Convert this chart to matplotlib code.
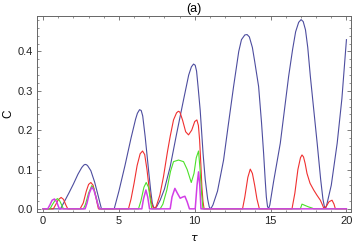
import matplotlib
matplotlib.use("Agg")
import matplotlib.pyplot as plt
from matplotlib.ticker import MultipleLocator

plt.rcParams['font.family'] = ['Liberation Sans', 'DejaVu Sans']

# curve values (tau, C)
blue_t = [0, 1.15, 1.4, 1.7, 2.0, 2.3, 2.55, 2.68, 2.77, 2.87, 2.95, 3.15, 3.4, 3.6, 3.75, 3.85,
          4.69, 5.0, 5.4, 5.8, 6.1, 6.22, 6.36, 6.47, 6.57, 6.73, 6.95, 7.1, 7.2, 7.3, 7.38,
          7.5, 7.72, 8.0, 8.38, 8.8, 9.26, 9.6, 9.78, 9.92, 10.03, 10.12, 10.22, 10.36, 10.55,
          10.69, 10.85, 10.95, 11.02, 11.1,
          11.2, 11.5, 11.9, 12.2, 12.56, 12.9, 13.08, 13.3, 13.45, 13.6, 13.8, 13.95, 14.21,
          14.4, 14.54, 14.65, 14.72, 14.8, 14.88, 14.95, 15.2, 15.64, 16.19, 16.45, 16.65,
          16.85, 17.01, 17.15, 17.3, 17.45, 17.62, 17.85, 18.07, 18.3, 18.45, 18.55, 18.63,
          18.7, 19.0, 19.39, 19.7, 20.0]
blue_c = [0, 0, 0.018, 0.04, 0.063, 0.088, 0.105, 0.111, 0.113, 0.112, 0.109, 0.097, 0.068,
          0.038, 0.015, 0,
          0, 0.045, 0.11, 0.18, 0.228, 0.243, 0.252, 0.25, 0.236, 0.184, 0.1, 0.045, 0.015,
          0.003, 0.001,
          0.006, 0.022, 0.05, 0.107, 0.19, 0.277, 0.34, 0.361, 0.368, 0.365, 0.35, 0.31, 0.25,
          0.14, 0.075, 0.025, 0.006, 0.0, 0.003,
          0.01, 0.045, 0.124, 0.21, 0.311, 0.4, 0.43, 0.442, 0.443, 0.437, 0.41, 0.375, 0.311,
          0.22, 0.141, 0.07, 0.03, 0.005, 0.002, 0.01, 0.07, 0.167, 0.337, 0.405, 0.45,
          0.474, 0.481, 0.476, 0.455, 0.41, 0.337, 0.25, 0.167, 0.075, 0.025, 0.005, 0.002,
          0.01, 0.06, 0.167, 0.28, 0.43]

red_t = [0, 0.68, 0.85, 1.0, 1.19, 1.35, 1.5, 1.63, 2.44, 2.65, 2.85, 3.0, 3.15, 3.3, 3.45, 3.58, 3.65,
         5.63, 5.8, 6.0, 6.2, 6.4, 6.56, 6.7, 6.85, 7.0, 7.15, 7.28, 7.45, 7.7, 7.94, 8.2, 8.38,
         8.6, 8.8, 8.92, 9.02, 9.2, 9.4, 9.59, 9.8, 10.0, 10.14, 10.24, 10.32, 10.4, 10.47,
         10.54, 10.6, 10.63,
         13.15, 13.3, 13.5, 13.66, 13.8, 13.95, 14.1, 14.26,
         16.41, 16.6, 16.8, 16.97, 17.07, 17.17, 17.28, 17.4, 17.6, 17.84, 18.05, 18.28, 18.42,
         18.5, 18.65, 18.85, 19.05, 19.18, 19.27, 20.0]
red_c = [0, 0, 0.012, 0.023, 0.029, 0.024, 0.01, 0, 0, 0.015, 0.045, 0.062, 0.067, 0.06, 0.035,
         0.012, 0,
         0, 0.025, 0.065, 0.11, 0.14, 0.147, 0.138, 0.1, 0.05, 0.015, 0.001, 0.005, 0.035,
         0.082, 0.145, 0.184,
         0.226, 0.244, 0.248, 0.246, 0.225, 0.196, 0.188, 0.2, 0.222, 0.226, 0.212, 0.175,
         0.115, 0.056, 0.02, 0.004, 0,
         0, 0.03, 0.08, 0.101, 0.09, 0.06, 0.025, 0,
         0, 0.04, 0.1, 0.13, 0.137, 0.132, 0.115, 0.09, 0.065, 0.048, 0.035, 0.022, 0.01,
         0.002, 0.005, 0.018, 0.022, 0.012, 0, 0]

green_t = [0, 0.46, 0.6, 0.8, 0.95, 1.1, 1.25, 1.34, 2.66, 2.8, 3.0, 3.21, 3.35, 3.5, 3.62, 3.72,
           6.29, 6.45, 6.65, 6.8, 6.95, 7.08, 7.17, 7.72, 7.9, 8.16, 8.4, 8.6, 8.93, 9.26, 9.5,
           9.77, 9.95, 10.1, 10.25, 10.35, 10.45, 10.54, 16.96, 17.07, 17.25, 17.5, 17.74, 17.85, 20.0]
green_c = [0, 0, 0.01, 0.022, 0.026, 0.02, 0.008, 0, 0, 0.012, 0.04, 0.059, 0.052, 0.03, 0.01, 0,
           0, 0.02, 0.055, 0.067, 0.055, 0.02, 0, 0, 0.012, 0.048, 0.095, 0.12, 0.124, 0.12, 0.1,
           0.067, 0.09, 0.13, 0.147, 0.1, 0.04, 0, 0, 0.012, 0.009, 0.005, 0.002, 0, 0]

magenta_t = [0, 0.31, 0.45, 0.6, 0.75, 0.9, 1.0, 1.08, 2.77, 2.9, 3.05, 3.21, 3.35, 3.5, 3.62, 3.72,
             6.51, 6.62, 6.78, 6.9, 7.02, 8.38, 8.5, 8.69, 8.85, 9.04, 9.2, 9.35, 9.5, 9.65,
             10.03, 10.15, 10.25, 10.33, 10.41, 20.0]
magenta_c = [0, 0, 0.01, 0.022, 0.025, 0.018, 0.007, 0, 0, 0.015, 0.04, 0.055, 0.048, 0.028, 0.01, 0,
             0, 0.025, 0.048, 0.03, 0, 0, 0.03, 0.052, 0.04, 0.027, 0.03, 0.032, 0.018, 0,
             0, 0.06, 0.094, 0.06, 0, 0]

fig = plt.figure(figsize=(3.54, 2.47), dpi=100)
ax = fig.add_axes([0.1045, 0.1417, 0.887, 0.7933])

lw = 0.8
ax.plot(blue_t, blue_c, color='#4d4d9f', lw=lw)
ax.plot(red_t, red_c, color='#f03030', lw=lw)
ax.plot(green_t, green_c, color='#4ce02a', lw=lw)
ax.plot(magenta_t, magenta_c, color='#d23ee6', lw=1.1)

ax.set_xlim(-0.4, 20.3)
ax.set_ylim(-0.008, 0.49)
ax.xaxis.set_major_locator(MultipleLocator(5))
ax.xaxis.set_minor_locator(MultipleLocator(1))
ax.yaxis.set_major_locator(MultipleLocator(0.1))
ax.yaxis.set_minor_locator(MultipleLocator(0.02))
ax.tick_params(which='both', direction='in', top=True, right=True,
               color='#666666', labelsize=8, labelcolor='#222222', pad=3)
ax.tick_params(which='major', length=3, width=0.6)
ax.tick_params(which='minor', length=1.6, width=0.5)
for s in ax.spines.values():
    s.set_color('#666666')
    s.set_linewidth(0.7)

ax.set_title('(a)', fontsize=9, pad=3)
ax.set_xlabel(r'$\tau$', fontsize=8, labelpad=5)
ax.set_ylabel('C', fontsize=8.5, labelpad=2)

fig.savefig('out.png', dpi=100)
